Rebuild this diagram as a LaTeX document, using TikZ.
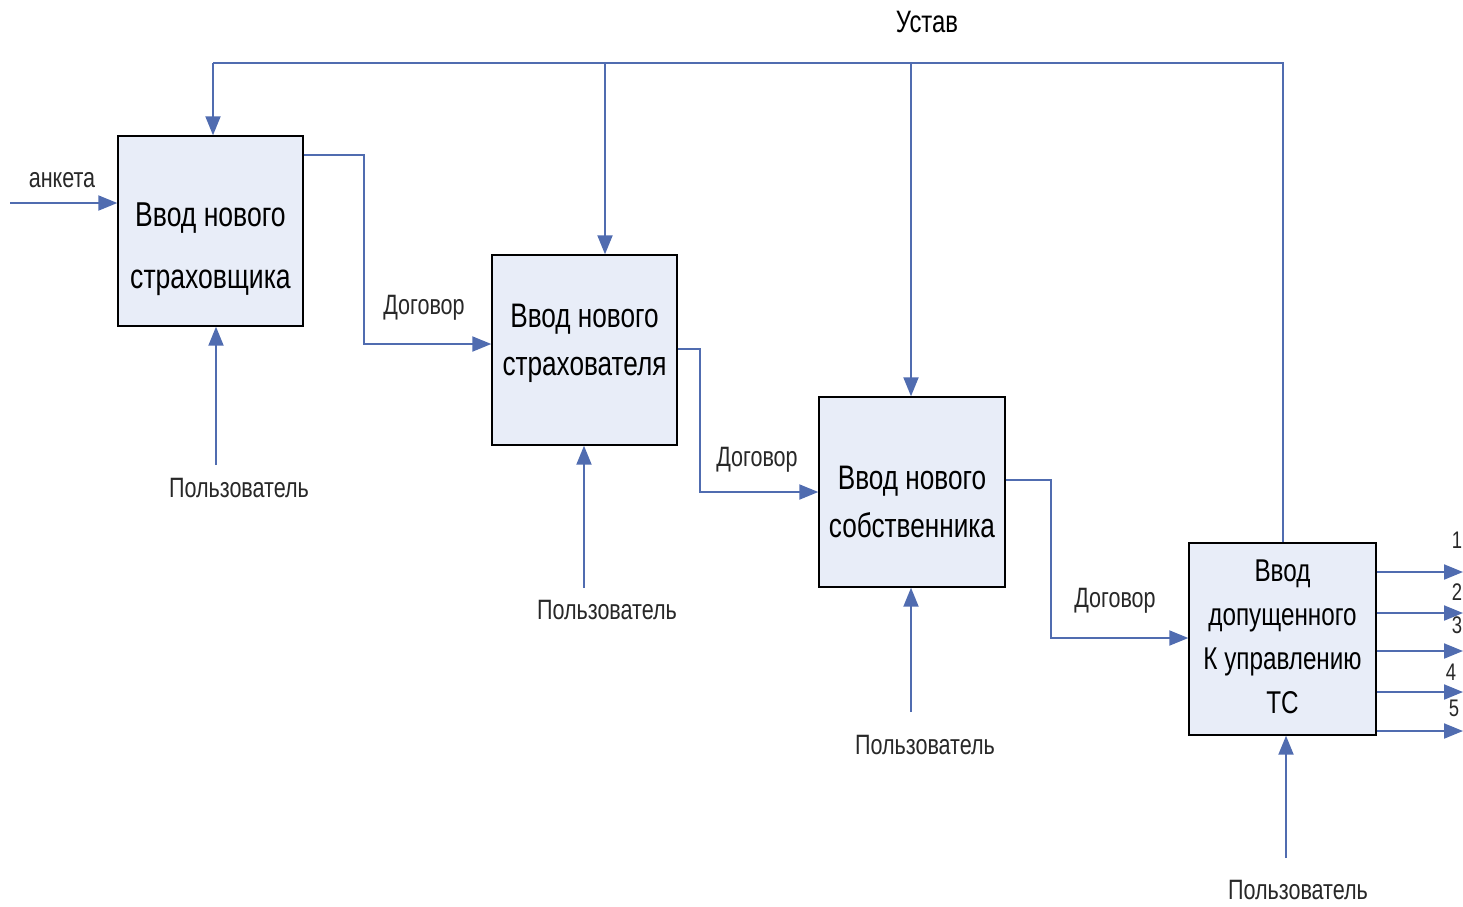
\documentclass[tikz,border=0pt]{standalone}
\usepackage{fontspec}
\setmainfont{Liberation Sans}[FakeStretch=0.77]
\usepackage{tikz}
\usetikzlibrary{arrows.meta}
\definecolor{idefline}{RGB}{80,108,176}
\definecolor{ideffill}{RGB}{232,237,248}
\definecolor{ideftext}{RGB}{40,40,40}

\tikzset{
  func/.style={draw=black, line width=1.4pt, fill=ideffill, inner sep=0pt,
    minimum width=185pt, minimum height=190pt},
  functext/.style={align=center, text=black, inner sep=0pt},
  flow/.style={idefline, line width=2pt, -{Triangle[length=19pt,width=15pt]}},
  line/.style={idefline, line width=2pt},
  lbl/.style={text=ideftext, inner sep=1pt, font=\fontsize{28}{30}\selectfont},
}

\begin{document}
\begin{tikzpicture}[x=1pt, y=-1pt]
\useasboundingbox (0,0) rectangle (1463,906);

% blocks
\node[func] (b1) at (210.5,231) {};
\node[func] (b2) at (584.5,350) {};
\node[func, minimum width=186pt] (b3) at (912,492) {};
\node[func, minimum width=187pt, minimum height=192pt] (b4) at (1282.5,639) {};
\node[functext, font=\fontsize{34.5}{62}\selectfont] (t1) at ([yshift=-18pt]b1.center) {Ввод нового\\страховщика};
\node[functext, font=\fontsize{34}{48}\selectfont] (t2) at ([yshift=7pt]b2.center) {Ввод нового\\страхователя};
\node[functext, font=\fontsize{34}{48}\selectfont] (t3) at ([yshift=-10pt]b3.center) {Ввод нового\\собственника};
\node[functext, font=\fontsize{31.5}{44}\selectfont] (t4) at ([yshift=2pt]b4.center) {Ввод\\допущенного\\К управлению\\ТС};

% control (Устав)
\node[lbl, text=black, font=\fontsize{31}{33}\selectfont] (ustav) at (927,22) {Устав};
\coordinate (top) at (0,63);
\coordinate (c1) at (213,63);
\coordinate (c2) at (605,63);
\coordinate (c3) at (911,63);
\draw[line] (b4.north) -- (b4.north |- top) -- (c1);
\draw[flow] (c1) -- (c1 |- b1.north);
\draw[flow] (c2) -- (c2 |- b2.north);
\draw[flow] (c3) -- (c3 |- b3.north);

% input
\node[lbl] (anketa) at (62,180) {анкета};
\coordinate (in1) at (10,203);
\draw[flow] (in1) -- (in1 -| b1.west);

% Договор between blocks
\node[lbl] (dog1) at (424,308) {Договор};
\node[lbl] (dog2) at (757,460) {Договор};
\node[lbl] (dog3) at (1115,601) {Договор};
\coordinate (o1) at (364,155);
\coordinate (i2) at (364,344);
\coordinate (o2) at (700,349);
\coordinate (i3) at (700,492);
\coordinate (o3) at (1051,480);
\coordinate (i4) at (1051,638);
\draw[flow] (o1 -| b1.east) -- (o1) -- (i2) -- (i2 -| b2.west);
\draw[flow] (o2 -| b2.east) -- (o2) -- (i3) -- (i3 -| b3.west);
\draw[flow] (o3 -| b3.east) -- (o3) -- (i4) -- (i4 -| b4.west);

% mechanisms
\node[lbl] (user1) at (239,488) {Пользователь};
\node[lbl] (user2) at (607,610) {Пользователь};
\node[lbl] (user3) at (925,745) {Пользователь};
\node[lbl] (user4) at (1298,890) {Пользователь};
\coordinate (m1) at (216,465);
\coordinate (m2) at (584,588);
\coordinate (m3) at (911,712);
\coordinate (m4) at (1286,858);
\draw[flow] (m1) -- (m1 |- b1.south);
\draw[flow] (m2) -- (m2 |- b2.south);
\draw[flow] (m3) -- (m3 |- b3.south);
\draw[flow] (m4) -- (m4 |- b4.south);

% outputs
\foreach \n/\y/\ly/\lx in {1/572/540/1457, 2/613/592/1457, 3/651/625/1457, 4/692/672/1451, 5/731/708/1454}{
  \node[lbl, font=\fontsize{24}{26}\selectfont] (out\n) at (\lx,\ly) {\n};
  \coordinate (e\n) at (1463,\y);
  \draw[flow] (e\n -| b4.east) -- (e\n);
}
\end{tikzpicture}
\end{document}
